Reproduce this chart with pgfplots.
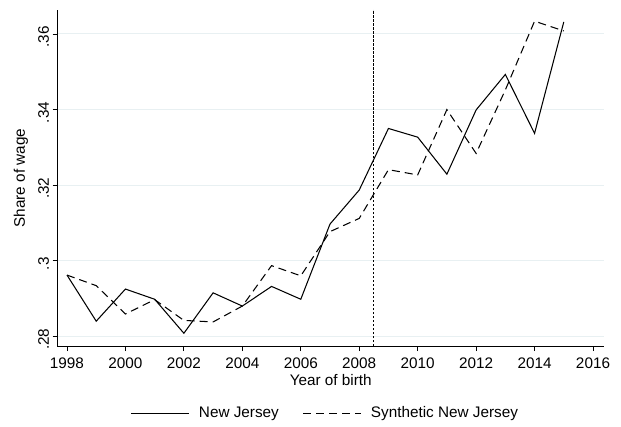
\documentclass[border=0pt]{standalone}
\usepackage{pgfplots}
\pgfplotsset{compat=1.18}
\usepackage{fontspec}
\setmainfont{Liberation Sans}
\definecolor{gridc}{RGB}{232,240,242}
\newcommand{\fs}{\fontsize{15.3}{18}\selectfont}
\begin{document}
\begin{tikzpicture}
\useasboundingbox (-57.5pt,-80pt) rectangle (563.5pt,346pt);
\begin{axis}[
  at={(0,0)}, anchor=south west,
  scale only axis, width=546.5pt, height=336pt,
  xmin=1997.675, xmax=2016.376,
  ymin=0.27743, ymax=0.36635,
  axis x line*=bottom, axis y line*=left,
  axis line style={-, line width=0.9pt, black},
  xtick={1998,2000,...,2016},
  ytick={0.28,0.30,0.32,0.34,0.36},
  yticklabels={.28,.3,.32,.34,.36},
  /pgf/number format/1000 sep={},
  /pgf/number format/assume math mode=true,
  tick align=outside, xtick pos=left, ytick pos=left,
  major tick length=5pt,
  tick style={black, line width=0.9pt},
  ymajorgrids, grid style={gridc, line width=1pt},
  ticklabel style={font=\fs},
  xticklabel style={yshift=-3.5pt},
  yticklabel style={rotate=90, anchor=south, xshift=-3pt},
  xlabel={Year of birth}, ylabel={Share of wage},
  label style={font=\fs},
  xlabel style={at={(axis description cs:0.5,-0.101)}, anchor=center},
  ylabel style={at={(axis description cs:-0.0668,0.5)}, anchor=center, rotate=0},
  legend columns=2,
  legend style={at={(axis description cs:0.4904,-0.2)}, anchor=center, draw=none, font=\fs,
    /tikz/every even column/.append style={column sep=22pt},
    /tikz/every odd column/.append style={column sep=7pt}},
  legend image code/.code={\draw[#1] (0pt,0pt) -- (58pt,0pt);},
]
\addplot[black, line width=1.05pt] coordinates {
(1998,0.2962) (1999,0.2840) (2000,0.2925) (2001,0.2898) (2002,0.2808)
(2003,0.2915) (2004,0.2880) (2005,0.2932) (2006,0.2898) (2007,0.3097)
(2008,0.3187) (2009,0.3350) (2010,0.3327) (2011,0.3229) (2012,0.3399)
(2013,0.3493) (2014,0.3337) (2015,0.3632)};
\addlegendentry{New Jersey}
\addplot[black, line width=1.05pt, dash pattern=on 8pt off 5pt] coordinates {
(1998,0.2962) (1999,0.2934) (2000,0.2859) (2001,0.2897) (2002,0.2842)
(2003,0.2838) (2004,0.2880) (2005,0.2987) (2006,0.2960) (2007,0.3077)
(2008,0.3112) (2009,0.3241) (2010,0.3227) (2011,0.3400) (2012,0.3284)
(2013,0.3452) (2014,0.3634) (2015,0.3608)};
\addlegendentry{Synthetic New Jersey}
\addplot[black, line width=0.9pt, dash pattern=on 2.5pt off 1.5pt, forget plot] coordinates {(2008.5,0.27743) (2008.5,0.36635)};
\end{axis}
\end{tikzpicture}
\end{document}
